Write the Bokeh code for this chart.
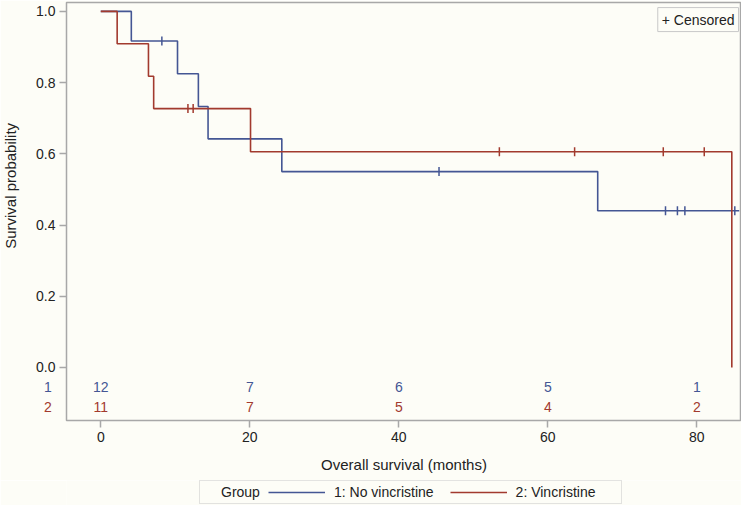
import math
from bokeh.plotting import figure
from bokeh.layouts import column
from bokeh.models import Label, Legend, LegendItem, FixedTicker, PrintfTickFormatter, Range1d
from bokeh.embed import file_html
from bokeh.resources import INLINE

# ---- data ----
blue_t = [0, 4.1, 10.3, 13.1, 14.4, 24.3, 66.7, 85.7]
blue_s = [1.0, 0.917, 0.825, 0.733, 0.642, 0.550, 0.440, 0.440]
blue_cens_t = [8.2, 45.4, 75.8, 77.4, 78.4, 85.1]
blue_cens_s = [0.917, 0.550, 0.440, 0.440, 0.440, 0.440]

red_t = [0, 2.2, 6.4, 7.1, 20.1, 84.7]
red_s = [1.0, 0.909, 0.818, 0.727, 0.606, 0.0]
red_cens_t = [11.7, 12.4, 53.5, 63.6, 75.5, 81.0]
red_cens_s = [0.727, 0.727, 0.606, 0.606, 0.606, 0.606]

risk_times = [0, 20, 40, 60, 80]
risk_blue = ["12", "7", "6", "5", "1"]
risk_red = ["11", "7", "5", "4", "2"]

x_ticks = [0, 20, 40, 60, 80]
y_ticks = [0.0, 0.2, 0.4, 0.6, 0.8, 1.0]

BLUE = "#445694"
RED = "#A23A2E"
BG = "#fdfdf7"
GREY = "#a8a8a8"
TXT = "#222222"
FONT = "Liberation Sans"

p = figure(width=741, height=480, output_backend="svg", toolbar_location=None,
           x_range=Range1d(-4.6, 86.0), y_range=Range1d(-0.149, 1.025),
           min_border_left=66, min_border_right=0, min_border_top=2, min_border_bottom=60)
p.background_fill_color = BG
p.border_fill_color = BG
p.outline_line_color = GREY
p.outline_line_width = 1.5
p.grid.visible = False

p.step(blue_t, blue_s, mode="after", line_color=BLUE, line_width=1.6)
p.step(red_t, red_s, mode="after", line_color=RED, line_width=1.6)
p.scatter(blue_cens_t, blue_cens_s, marker="dash", angle=1.5708, size=9,
          line_color=BLUE, line_width=1.5)
p.scatter(red_cens_t, red_cens_s, marker="dash", angle=1.5708, size=9,
          line_color=RED, line_width=1.5)

# at-risk table
for t, b, r in zip(risk_times, risk_blue, risk_red):
    p.add_layout(Label(x=t, y=-0.056, text=b, text_color=BLUE, text_font=FONT,
                       text_font_size="14px", text_align="center", text_baseline="middle"))
    p.add_layout(Label(x=t, y=-0.110, text=r, text_color=RED, text_font=FONT,
                       text_font_size="14px", text_align="center", text_baseline="middle"))

# censored box
p.add_layout(Label(x=85.6, y=0.977, text="+ Censored", text_font=FONT, text_font_size="14px",
                   text_align="right", text_baseline="middle", text_color=TXT,
                   background_fill_color=BG, border_line_color="#c8c8c8", padding=4))

# axes
p.xaxis.ticker = FixedTicker(ticks=x_ticks)
p.yaxis.ticker = FixedTicker(ticks=y_ticks)
p.yaxis.formatter = PrintfTickFormatter(format="%.1f")
for ax in (p.xaxis, p.yaxis):
    ax.axis_line_color = None
    ax.major_tick_line_color = GREY
    ax.major_tick_line_width = 1.5
    ax.major_tick_out = 7
    ax.major_tick_in = 0
    ax.minor_tick_line_color = None
    ax.major_label_text_font = FONT
    ax.major_label_text_font_size = "14px"
    ax.major_label_text_color = TXT
    ax.axis_label_text_font = FONT
    ax.axis_label_text_font_size = "15px"
    ax.axis_label_text_font_style = "normal"
    ax.axis_label_text_color = TXT
p.xaxis.axis_label = "Overall survival (months)"
p.xaxis.major_label_standoff = 4
p.yaxis.major_label_standoff = 4
p.xaxis.axis_label_standoff = 11

# texts left of the frame (side panel so they are not clipped)
p.add_layout(Label(x=-7.1, y=-0.056, text="1", text_color=BLUE, text_font=FONT,
                   text_font_size="14px", text_align="center", text_baseline="middle"), "left")
p.add_layout(Label(x=-7.1, y=-0.110, text="2", text_color=RED, text_font=FONT,
                   text_font_size="14px", text_align="center", text_baseline="middle"), "left")
p.add_layout(Label(x=-12.1, y=0.51, text="Survival probability", angle=math.pi / 2,
                   text_color=TXT, text_font=FONT, text_font_size="15px",
                   text_align="center", text_baseline="middle"), "left")

# ---- legend strip ----
p2 = figure(width=741, height=25, output_backend="svg", toolbar_location=None,
            x_range=Range1d(0, 1), y_range=Range1d(0, 1), min_border=0)
p2.background_fill_color = BG
p2.border_fill_color = BG
p2.outline_line_color = None
p2.grid.visible = False
p2.axis.visible = False
dummy_r = p2.line([-1], [-1], line_alpha=0)
lb = p2.line([-1], [-1], line_color=BLUE, line_width=1.6)
lr = p2.line([-1], [-1], line_color=RED, line_width=1.6)

def style_legend(lg):
    lg.label_text_font = FONT
    lg.label_text_font_size = "14px"
    lg.label_text_color = TXT
    lg.glyph_height = 14
    lg.padding = 3
    lg.margin = 0
    lg.background_fill_alpha = 0.0

# outer box holding the "Group" caption
outer = Legend(items=[LegendItem(label="Group", renderers=[dummy_r])],
               orientation="horizontal", location=(133, 1))
style_legend(outer)
outer.glyph_width = 18
outer.label_standoff = 0
outer.label_width = 397
outer.border_line_color = "#c8c8c8"
p2.add_layout(outer)

# group entries
groups = Legend(items=[LegendItem(label="1: No vincristine", renderers=[lb]),
                       LegendItem(label="2: Vincristine", renderers=[lr])],
                orientation="horizontal", location=(202, 5))
style_legend(groups)
groups.glyph_width = 57
groups.label_standoff = 9
groups.spacing = 16
groups.border_line_color = None
p2.add_layout(groups)

layout = column(p, p2, spacing=0)
open("out.html", "w").write(file_html(layout, INLINE))
